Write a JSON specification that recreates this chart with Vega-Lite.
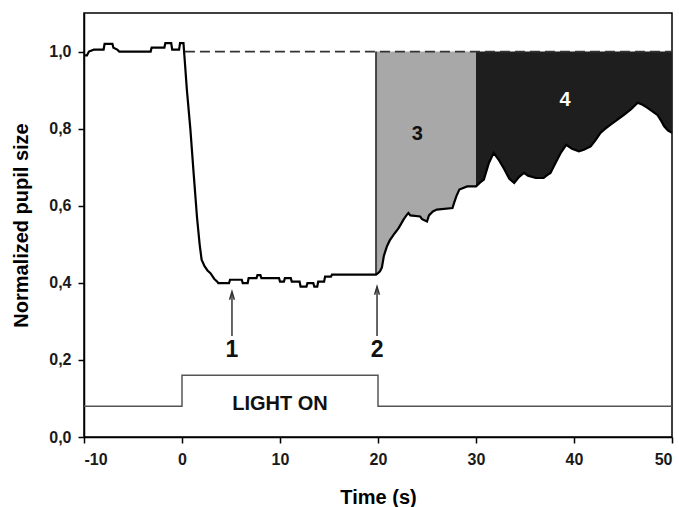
{
  "$schema": "https://vega.github.io/schema/vega-lite/v6.json",
  "width": 588,
  "height": 424,
  "autosize": {"type": "none"},
  "padding": {"left": 84, "top": 13, "right": 7, "bottom": 70},
  "background": "white",
  "config": {
    "view": {"stroke": "black", "strokeWidth": 1.5},
    "font": "Liberation Sans",
    "axis": {
      "grid": false,
      "domainColor": "black",
      "domainWidth": 1.5,
      "tickColor": "black",
      "tickWidth": 1.5,
      "tickSize": 6,
      "labelFont": "Liberation Sans",
      "labelFontWeight": "bold",
      "labelFontSize": 16,
      "labelColor": "#1a1a1a",
      "titleFont": "Liberation Sans",
      "titleFontWeight": "bold",
      "titleFontSize": 20,
      "titleColor": "black"
    }
  },
  "datasets": {
    "trace": [
      {"t": -10, "v": 0.99}, {"t": -9.7, "v": 0.99}, {"t": -9.5, "v": 1.0}, {"t": -9.0, "v": 1.005},
      {"t": -8.0, "v": 1.005}, {"t": -7.9, "v": 1.02}, {"t": -7.1, "v": 1.02}, {"t": -7.0, "v": 1.01},
      {"t": -6.6, "v": 1.005}, {"t": -6.4, "v": 1.0}, {"t": -3.2, "v": 1.0}, {"t": -3.1, "v": 1.01},
      {"t": -1.8, "v": 1.01}, {"t": -1.7, "v": 1.022}, {"t": -1.1, "v": 1.022}, {"t": -1.0, "v": 1.005},
      {"t": -0.3, "v": 1.005}, {"t": -0.2, "v": 1.022}, {"t": 0.15, "v": 1.022},
      {"t": 0.3, "v": 0.97}, {"t": 0.5, "v": 0.9}, {"t": 0.85, "v": 0.8}, {"t": 1.2, "v": 0.68},
      {"t": 1.53, "v": 0.57}, {"t": 1.8, "v": 0.5}, {"t": 2.0, "v": 0.46}, {"t": 2.3, "v": 0.443},
      {"t": 2.6, "v": 0.432}, {"t": 2.9, "v": 0.425}, {"t": 3.3, "v": 0.41}, {"t": 3.6, "v": 0.403},
      {"t": 3.7, "v": 0.399}, {"t": 4.8, "v": 0.399}, {"t": 4.9, "v": 0.408}, {"t": 6.1, "v": 0.408},
      {"t": 6.2, "v": 0.399}, {"t": 6.7, "v": 0.399}, {"t": 6.8, "v": 0.412}, {"t": 7.6, "v": 0.412},
      {"t": 7.7, "v": 0.42}, {"t": 8.0, "v": 0.42}, {"t": 8.1, "v": 0.412}, {"t": 9.9, "v": 0.412},
      {"t": 10.0, "v": 0.403}, {"t": 10.4, "v": 0.403}, {"t": 10.5, "v": 0.412}, {"t": 11.1, "v": 0.412},
      {"t": 11.2, "v": 0.403}, {"t": 12.0, "v": 0.403}, {"t": 12.1, "v": 0.39}, {"t": 12.7, "v": 0.39},
      {"t": 12.8, "v": 0.399}, {"t": 13.4, "v": 0.399}, {"t": 13.5, "v": 0.39}, {"t": 13.8, "v": 0.39},
      {"t": 13.9, "v": 0.403}, {"t": 14.5, "v": 0.403}, {"t": 14.6, "v": 0.416}, {"t": 15.2, "v": 0.416},
      {"t": 15.3, "v": 0.421}, {"t": 19.8, "v": 0.421},
      {"t": 20.0, "v": 0.425}, {"t": 20.2, "v": 0.43}, {"t": 20.4, "v": 0.44}, {"t": 20.6, "v": 0.47},
      {"t": 20.9, "v": 0.494}, {"t": 21.2, "v": 0.51}, {"t": 21.6, "v": 0.525}, {"t": 21.9, "v": 0.535},
      {"t": 22.1, "v": 0.542}, {"t": 22.4, "v": 0.555}, {"t": 22.6, "v": 0.564}, {"t": 22.9, "v": 0.575},
      {"t": 23.1, "v": 0.581}, {"t": 23.3, "v": 0.575}, {"t": 24.3, "v": 0.572}, {"t": 24.5, "v": 0.565},
      {"t": 25.0, "v": 0.559}, {"t": 25.2, "v": 0.575}, {"t": 25.6, "v": 0.585}, {"t": 26.0, "v": 0.59},
      {"t": 27.6, "v": 0.594}, {"t": 27.8, "v": 0.61}, {"t": 28.0, "v": 0.625}, {"t": 28.3, "v": 0.642},
      {"t": 29.1, "v": 0.65}, {"t": 30.0, "v": 0.65}, {"t": 30.4, "v": 0.66}, {"t": 30.8, "v": 0.668},
      {"t": 31.3, "v": 0.71}, {"t": 31.8, "v": 0.737}, {"t": 32.3, "v": 0.72}, {"t": 32.9, "v": 0.694},
      {"t": 33.4, "v": 0.67}, {"t": 33.9, "v": 0.659}, {"t": 34.4, "v": 0.675}, {"t": 34.9, "v": 0.685},
      {"t": 35.3, "v": 0.678}, {"t": 36.1, "v": 0.672}, {"t": 36.9, "v": 0.672}, {"t": 37.3, "v": 0.68},
      {"t": 37.6, "v": 0.685}, {"t": 38.1, "v": 0.71}, {"t": 38.6, "v": 0.735}, {"t": 39.2, "v": 0.758},
      {"t": 39.8, "v": 0.748}, {"t": 40.5, "v": 0.741}, {"t": 41.0, "v": 0.745}, {"t": 41.7, "v": 0.754},
      {"t": 42.2, "v": 0.77}, {"t": 42.7, "v": 0.789}, {"t": 43.2, "v": 0.8}, {"t": 43.7, "v": 0.81},
      {"t": 44.4, "v": 0.823}, {"t": 45.1, "v": 0.836}, {"t": 45.8, "v": 0.85}, {"t": 46.5, "v": 0.867},
      {"t": 47.0, "v": 0.862}, {"t": 47.5, "v": 0.854}, {"t": 48.0, "v": 0.845}, {"t": 48.5, "v": 0.836},
      {"t": 48.9, "v": 0.82}, {"t": 49.2, "v": 0.806}, {"t": 49.6, "v": 0.795}, {"t": 50.0, "v": 0.789}
    ],
    "light": [
      {"i": 1, "t": -10, "v": 0.08}, {"i": 2, "t": 0, "v": 0.08}, {"i": 3, "t": 0, "v": 0.16},
      {"i": 4, "t": 20, "v": 0.16}, {"i": 5, "t": 20, "v": 0.08}, {"i": 6, "t": 50, "v": 0.08}
    ],
    "baseline": [{"t": 0.3, "t2": 50, "v": 1.0}],
    "edge": [{"t": 19.8, "v": 0.421, "v2": 1.0}],
    "arrows": [
      {"t": 5.1, "base": 0.262, "tip": 0.377},
      {"t": 19.9, "base": 0.262, "tip": 0.39}
    ],
    "bigLabels": [
      {"t": 5.1, "v": 0.225, "label": "1"},
      {"t": 19.9, "v": 0.225, "label": "2"}
    ],
    "labels": [
      {"t": 10, "v": 0.085, "label": "LIGHT ON"},
      {"t": 24.0, "v": 0.787, "label": "3"}
    ],
    "whiteLabels": [
      {"t": 39.1, "v": 0.873, "label": "4"}
    ]
  },
  "encoding": {
    "x": {
      "field": "t", "type": "quantitative",
      "scale": {"domain": [-10, 50], "nice": false, "zero": false},
      "axis": {"values": [-10, 0, 10, 20, 30, 40, 50], "labelExpr": "'' + datum.value", "title": "Time (s)", "labelPadding": 8, "titlePadding": 20}
    },
    "y": {
      "field": "v", "type": "quantitative",
      "scale": {"domain": [0, 1.1], "nice": false},
      "axis": {
        "values": [0, 0.2, 0.4, 0.6, 0.8, 1.0],
        "labelExpr": "replace(format(datum.value, '.1f'), '.', ',')",
        "title": "Normalized pupil size", "labelPadding": 7, "titlePadding": 17
      }
    }
  },
  "layer": [
    {
      "data": {"name": "trace"},
      "transform": [{"filter": "datum.t >= 19.8 && datum.t <= 30"}],
      "mark": {"type": "area", "color": "#a8a8a8", "opacity": 1},
      "encoding": {"y2": {"datum": 1.0}}
    },
    {
      "data": {"name": "trace"},
      "transform": [{"filter": "datum.t >= 30"}],
      "mark": {"type": "area", "color": "#1e1e1e", "opacity": 1},
      "encoding": {"y2": {"datum": 1.0}}
    },
    {
      "data": {"name": "baseline"},
      "mark": {"type": "rule", "color": "#333", "strokeWidth": 1.8, "strokeDash": [10, 5]},
      "encoding": {"x2": {"field": "t2"}}
    },
    {
      "data": {"name": "edge"},
      "mark": {"type": "rule", "color": "#444", "strokeWidth": 2},
      "encoding": {"y2": {"field": "v2"}}
    },
    {
      "data": {"name": "light"},
      "mark": {"type": "line", "color": "#555", "strokeWidth": 1.5},
      "encoding": {"order": {"field": "i", "type": "quantitative"}}
    },
    {
      "data": {"name": "trace"},
      "mark": {"type": "line", "color": "black", "strokeWidth": 2.2},
      "encoding": {}
    },
    {
      "data": {"name": "arrows"},
      "mark": {"type": "rule", "color": "#333", "strokeWidth": 1.5},
      "encoding": {"y": {"field": "base", "type": "quantitative"}, "y2": {"field": "tip"}}
    },
    {
      "data": {"name": "arrows"},
      "mark": {"type": "point", "shape": "M-0.6,1L0,-1L0.6,1", "filled": false, "stroke": "#333", "strokeWidth": 1.5, "size": 64, "opacity": 1},
      "encoding": {"y": {"field": "tip", "type": "quantitative"}, "yOffset": {"value": 4}}
    },
    {
      "data": {"name": "bigLabels"},
      "mark": {"type": "text", "font": "Liberation Sans", "fontWeight": "bold", "fontSize": 23, "color": "#111", "align": "center", "baseline": "middle"},
      "encoding": {"text": {"field": "label"}}
    },
    {
      "data": {"name": "labels"},
      "mark": {"type": "text", "font": "Liberation Sans", "fontWeight": "bold", "fontSize": 20, "color": "#111", "align": "center", "baseline": "middle"},
      "encoding": {"text": {"field": "label"}}
    },
    {
      "data": {"name": "whiteLabels"},
      "mark": {"type": "text", "font": "Liberation Sans", "fontWeight": "bold", "fontSize": 20, "color": "white", "align": "center", "baseline": "middle"},
      "encoding": {"text": {"field": "label"}}
    }
  ]
}
